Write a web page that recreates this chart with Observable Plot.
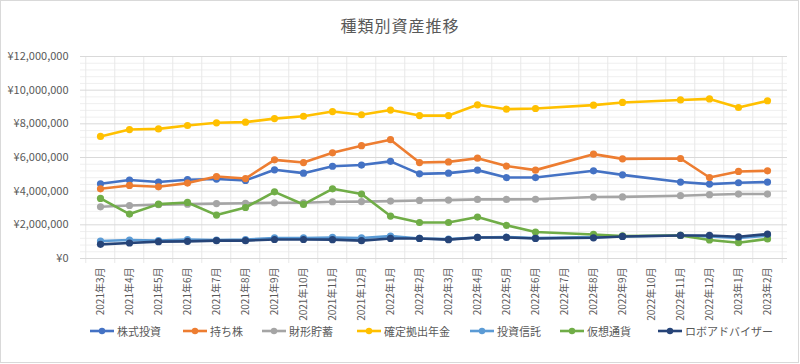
<!DOCTYPE html>
<html>
<head>
<meta charset="utf-8">
<script src="https://cdn.jsdelivr.net/npm/d3@7"></script>
<script src="https://cdn.jsdelivr.net/npm/@observablehq/plot@0.6"></script>
<style>
  html, body { margin: 0; padding: 0; background: #fff; }
  body { font-family: "Noto Sans CJK JP", "Noto Sans", sans-serif; }
  #wrap { position: relative; width: 800px; height: 364px; overflow: hidden; }
  #frame { position: absolute; left: 0; top: 0; width: 797px; height: 361px; border: 1px solid #d9d9d9; }
  #title { position: absolute; top: 13px; left: 0; width: 800px; text-align: center; font-size: 16px; color: #595959; letter-spacing: 1px; }
  #chart { position: absolute; top: 40px; left: 0; }
  #legend { position: absolute; top: 323px; left: 0; width: 800px; height: 18px; }
  .item { position: absolute; top: 0; display: flex; align-items: center; font-size: 11px; color: #595959; white-space: nowrap; }
  .item svg { margin-right: 3px; }
</style>
</head>
<body>
<div id="wrap">
  <div id="frame"></div>
  <div id="title"></div>
  <div id="chart"></div>
  <div id="legend"></div>
</div>
<script>
const title = "種類別資産推移";

const months = ["2021年3月","2021年4月","2021年5月","2021年6月","2021年7月","2021年8月","2021年9月","2021年10月","2021年11月","2021年12月","2022年1月","2022年2月","2022年3月","2022年4月","2022年5月","2022年6月","2022年7月","2022年8月","2022年9月","2022年10月","2022年11月","2022年12月","2023年1月","2023年2月"];

const seriesNames = ["株式投資","持ち株","財形貯蓄","確定拠出年金","投資信託","仮想通貨","ロボアドバイザー"];
const seriesColors = ["#4472C4","#ED7D31","#A5A5A5","#FFC000","#5B9BD5","#70AD47","#264478"];

const kabushiki = [4440000,4660000,4540000,4680000,4720000,4640000,5270000,5070000,5480000,5550000,5770000,5030000,5070000,5250000,4810000,4810000,null,5210000,4970000,null,4540000,4420000,4500000,4540000];
const mochikabu = [4140000,4340000,4260000,4480000,4870000,4750000,5860000,5700000,6280000,6700000,7060000,5700000,5740000,5960000,5490000,5250000,null,6200000,5920000,null,5940000,4810000,5170000,5210000];
const zaikei = [3070000,3150000,3200000,3230000,3260000,3280000,3310000,3310000,3370000,3380000,3410000,3450000,3470000,3510000,3510000,3520000,null,3650000,3660000,null,3730000,3790000,3830000,3830000];
const kakutei = [7250000,7660000,7700000,7900000,8060000,8100000,8310000,8450000,8730000,8540000,8820000,8490000,8490000,9130000,8870000,8910000,null,9110000,9270000,null,9420000,9480000,8970000,9370000];
const toushin = [1040000,1100000,1070000,1120000,1100000,1120000,1220000,1220000,1250000,1220000,1330000,1190000,1150000,1250000,1270000,1220000,null,1270000,1310000,null,1370000,1310000,1220000,1350000];
const kasou = [3570000,2640000,3230000,3330000,2580000,3030000,3960000,3210000,4140000,3830000,2520000,2140000,2140000,2460000,1970000,1570000,null,1430000,1340000,null,1370000,1100000,940000,1160000];
const roboad = [840000,920000,1000000,1020000,1060000,1060000,1130000,1130000,1120000,1060000,1190000,1190000,1120000,1250000,1250000,1190000,null,1230000,1310000,null,1370000,1370000,1290000,1450000];

const yMajorTicks = [0,2000000,4000000,6000000,8000000,10000000,12000000];

const seriesValues = [kabushiki, mochikabu, zaikei, kakutei, toushin, kasou, roboad];

// long table
const rows = [];
seriesNames.forEach((name, s) => {
  months.forEach((m, i) => {
    const v = seriesValues[s][i];
    if (v != null) rows.push({series: name, month: m, value: v, order: s});
  });
});

const W = 800, H = 285;
const mL = 80, mR = 13, mT = 16, mB = 67;
const step = (W - mL - mR) / months.length;
const yMinorTicks = d3.range(0, 12000001, 400000).filter(v => !yMajorTicks.includes(v));

const marks = [
  Plot.ruleY(yMinorTicks, {stroke: "#efefef", strokeWidth: 1}),
  Plot.ruleX(months, {x: d => d, dx: -step / 2, stroke: "#e8e8e8", insetBottom: -5}),
  Plot.ruleX([months[months.length - 1]], {x: d => d, dx: step / 2, stroke: "#e8e8e8", insetBottom: -5}),
  Plot.ruleY(yMajorTicks, {stroke: "#d9d9d9", strokeWidth: 1}),
  Plot.axisY({ticks: yMajorTicks, tickFormat: d => "¥" + d3.format(",")(d), tickSize: 0, tickPadding: 12, fontSize: 11}),
  Plot.axisX({tickRotate: -90, tickSize: 0, tickPadding: 9, fontSize: 10})
];
seriesNames.forEach((name, s) => {
  const data = rows.filter(r => r.series === name);
  marks.push(Plot.line(data, {x: "month", y: "value", stroke: seriesColors[s], strokeWidth: 2.6, curve: "linear"}));
  marks.push(Plot.dot(data, {x: "month", y: "value", fill: seriesColors[s], r: 3.6}));
});

const chart = Plot.plot({
  width: W, height: H,
  marginLeft: mL, marginRight: mR, marginTop: mT, marginBottom: mB,
  style: {fontFamily: '"Noto Sans CJK JP", sans-serif', color: "#595959", background: "transparent"},
  x: {type: "point", domain: months, padding: 0.5, label: null},
  y: {domain: [0, 12000000], label: null},
  marks
});
document.getElementById("chart").appendChild(chart);
document.getElementById("title").textContent = title;

// legend
const legendX = [90, 183, 262, 357, 470, 560, 658];
const legend = document.getElementById("legend");
seriesNames.forEach((name, s) => {
  const item = document.createElement("div");
  item.className = "item";
  item.style.left = legendX[s] + "px";
  item.innerHTML = `<svg width="24" height="10"><line x1="0" x2="24" y1="5" y2="5" stroke="${seriesColors[s]}" stroke-width="2.6"/><circle cx="12" cy="5" r="3.2" fill="${seriesColors[s]}"/></svg><span>${name}</span>`;
  legend.appendChild(item);
});
</script>
</body>
</html>
